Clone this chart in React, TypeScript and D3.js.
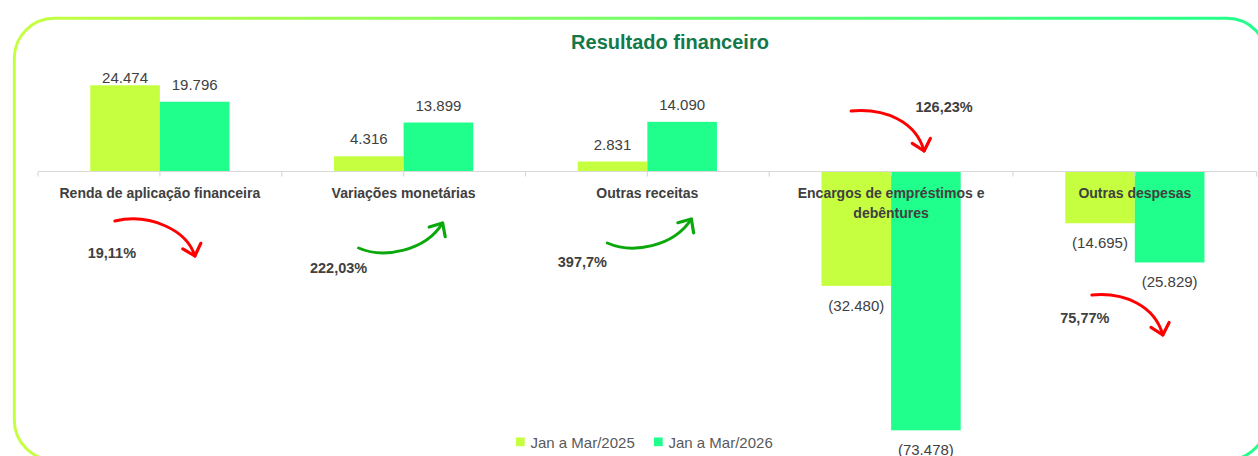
import React from 'react';
import * as d3 from 'd3';

// ---- data ----
const categories = [
  'Renda de aplicação financeira',
  'Variações monetárias',
  'Outras receitas',
  'Encargos de empréstimos e debêntures',
  'Outras despesas',
];
const seriesNames = ['Jan a Mar/2025', 'Jan a Mar/2026'];
const values2025 = [24474, 4316, 2831, -32480, -14695];
const values2026 = [19796, 13899, 14090, -73478, -25829];
const variationLabels = ['19,11%', '222,03%', '397,7%', '126,23%', '75,77%'];
const variationTrend = ['bad', 'good', 'good', 'bad', 'bad'];

// ---- layout (annotation geometry relative to category centre) ----
const arrowLayout = [
  { s: [-45, 221], c1: [-10, 213], c2: [27, 230], t: [35, 256], l: [-48, 258] },
  { s: [-45, 248], c1: [-20, 259], c2: [22, 251], t: [39, 223], l: [-65, 273] },
  { s: [-40, 243], c1: [-15, 254], c2: [26, 247], t: [44, 219], l: [-65, 267] },
  { s: [-40, 111], c1: [-5, 108], c2: [25, 122], t: [33, 151], l: [53, 112] },
  { s: [-43, 295], c1: [-10, 292], c2: [20, 306], t: [28, 335], l: [-50, 323] },
];

const W = 1258;
const H = 456;
const FONT = '"Liberation Sans", Arial, sans-serif';
const C1 = '#c6ff40';
const C2 = '#20ff8c';
const seriesColors = [C1, C2];

const locale = d3.formatLocale({ decimal: ',', thousands: '.', grouping: [3], currency: ['', ''] });
const fmtInt = locale.format(',d');
const fmt = (v: number) => (v < 0 ? `(${fmtInt(-v)})` : fmtInt(v));

function wrap(text: string, font: string, maxW: number): string[] {
  const canvas = document.createElement('canvas');
  const ctx = canvas.getContext('2d')!;
  ctx.font = font;
  const words = text.split(' ');
  const lines: string[] = [];
  let cur = '';
  for (const w of words) {
    const test = cur ? cur + ' ' + w : w;
    if (ctx.measureText(test).width > maxW && cur) {
      lines.push(cur);
      cur = w;
    } else cur = test;
  }
  if (cur) lines.push(cur);
  return lines;
}

export default function App() {
  const x = d3.scaleBand<string>().domain(categories).range([38, 1256.7]).paddingInner(0).paddingOuter(0);
  const bw = x.bandwidth();
  const barW = 69.6;
  const xs = d3.scaleBand<string>().domain(seriesNames).range([-barW, barW]);
  const y = d3.scaleLinear().domain([-80000, 30000]).range([453.3, 65.8]);
  const y0 = y(0);

  const data = categories.map((c, i) => ({ c, vals: [values2025[i], values2026[i]] }));

  const tickXs: number[] = [];
  categories.forEach((c) => {
    tickXs.push(x(c)!);
    tickXs.push(x(c)! + bw / 2);
  });
  tickXs.push(x(categories[categories.length - 1])! + bw);

  const catFont = `bold 14px ${FONT}`;

  return (
    <svg width={W} height={H} style={{ position: 'absolute', left: 0, top: 0, background: '#fff' }} fontFamily={FONT}>
      <defs>
        <linearGradient id="border" x1="0" x2="1" y1="0" y2="0">
          <stop offset="0" stopColor={C1} />
          <stop offset="1" stopColor={C2} />
        </linearGradient>
      </defs>
      <rect x={14.3} y={18.3} width={1252.7} height={441.7} rx={40} ry={40} fill="#fff" stroke="url(#border)" strokeWidth={3} />

      <text x={670} y={48.5} textAnchor="middle" fontSize={20} fontWeight="bold" fill="#127a4a">
        Resultado financeiro
      </text>

      {/* bars */}
      {data.map((d) => {
        const cx = x(d.c)! + bw / 2;
        return (
          <g key={d.c}>
            {d.vals.map((v, j) => {
              const bx = cx + xs(seriesNames[j])!;
              const top = Math.min(y(v), y0);
              const h = Math.abs(y(v) - y0);
              return <rect key={j} x={bx} y={top} width={xs.bandwidth()} height={h} fill={seriesColors[j]} />;
            })}
          </g>
        );
      })}

      {/* axis */}
      <line x1={38} x2={1256.7} y1={y0} y2={y0} stroke="#d9d9d9" strokeWidth={1.2} />
      {tickXs.map((tx, i) => (
        <line key={i} x1={tx} x2={tx} y1={y0} y2={y0 + 5} stroke="#d9d9d9" strokeWidth={1.2} />
      ))}

      {/* category labels */}
      {categories.map((c) => {
        const lines = wrap(c, catFont, bw - 10);
        const cx = x(c)! + bw / 2;
        return (
          <text key={c} x={cx} y={198.3} textAnchor="middle" fontSize={14} fontWeight="bold" fill="#404040">
            {lines.map((ln, k) => (
              <tspan key={k} x={cx} dy={k === 0 ? 0 : 19.5}>
                {ln}
              </tspan>
            ))}
          </text>
        );
      })}

      {/* value labels */}
      {data.map((d) => {
        const cx = x(d.c)! + bw / 2;
        return d.vals.map((v, j) => {
          const lx = cx + xs(seriesNames[j])! + xs.bandwidth() / 2;
          const ly = v >= 0 ? Math.max(y(v) - 12, 83.3) : y(v) + 25;
          return (
            <text key={d.c + j} x={lx} y={ly} textAnchor="middle" fontSize={15} fill="#404040">
              {fmt(v)}
            </text>
          );
        });
      })}

      {/* variation arrows */}
      {categories.map((c, i) => {
        const cx = x(c)! + bw / 2;
        const a = arrowLayout[i];
        const col = variationTrend[i] === 'good' ? '#0aa80a' : '#ff0000';
        const p = d3.path();
        p.moveTo(cx + a.s[0], a.s[1]);
        p.bezierCurveTo(cx + a.c1[0], a.c1[1], cx + a.c2[0], a.c2[1], cx + a.t[0], a.t[1]);
        const ang = Math.atan2(a.t[1] - a.c2[1], a.t[0] - a.c2[0]);
        const back = ang + Math.PI;
        const L = 14;
        const spread = (42 * Math.PI) / 180;
        const tx = cx + a.t[0];
        const ty = a.t[1];
        const w1 = [tx + L * Math.cos(back - spread), ty + L * Math.sin(back - spread)];
        const w2 = [tx + L * Math.cos(back + spread), ty + L * Math.sin(back + spread)];
        return (
          <g key={c}>
            <path d={p.toString()} fill="none" stroke={col} strokeWidth={3} strokeLinecap="round" />
            <path
              d={`M${w1[0]},${w1[1]}L${tx},${ty}L${w2[0]},${w2[1]}`}
              fill="none"
              stroke={col}
              strokeWidth={3.2}
              strokeLinecap="round"
              strokeLinejoin="round"
            />
            <text x={cx + a.l[0]} y={a.l[1]} textAnchor="middle" fontSize={14.5} fontWeight="bold" fill="#404040">
              {variationLabels[i]}
            </text>
          </g>
        );
      })}

      {/* legend */}
      {seriesNames.map((s, j) => {
        const lx = [516, 654][j];
        return (
          <g key={s}>
            <rect x={lx} y={437.5} width={8.7} height={8.7} fill={seriesColors[j]} />
            <text x={lx + 14.5} y={448.3} fontSize={15} fill="#595959">
              {s}
            </text>
          </g>
        );
      })}
    </svg>
  );
}
